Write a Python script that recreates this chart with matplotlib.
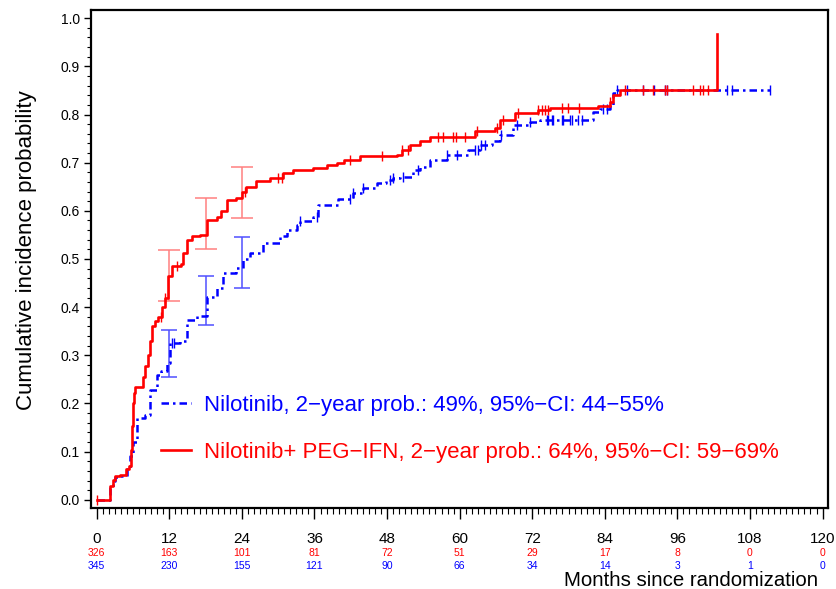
import numpy as np
import matplotlib
matplotlib.use("Agg")
import matplotlib.pyplot as plt
from matplotlib.ticker import MultipleLocator

plt.rcParams['font.family'] = ['Liberation Sans', 'DejaVu Sans']

# ---- data ----
red_t = [0, 2.2, 2.7, 3.0, 3.9, 4.9, 5.3, 5.6, 5.8, 5.95, 6.1, 6.3, 7.6, 8.0, 8.4, 8.8,
         9.2, 9.7, 10.1, 10.8, 11.3, 11.8, 12.4, 13.9, 14.3, 14.9, 15.7, 17.1, 18.2, 19.8,
         20.6, 21.5, 23.1, 24.0, 24.6, 26.4, 28.6, 30.8, 32.5, 35.8, 38.0, 39.7, 40.8, 43.5,
         49.6, 50.4, 51.8, 53.4, 55.1, 62.5, 65.8, 66.7, 69.1, 73.0, 74.9, 82.9, 84.8, 85.4,
         86.5, 102.6]
red_v = [0, 0.028, 0.042, 0.049, 0.052, 0.063, 0.07, 0.104, 0.153, 0.20, 0.222, 0.235, 0.256,
         0.277, 0.30, 0.33, 0.36, 0.372, 0.38, 0.40, 0.42, 0.464, 0.485, 0.49, 0.512, 0.54,
         0.547, 0.55, 0.58, 0.588, 0.60, 0.623, 0.627, 0.64, 0.65, 0.661, 0.668, 0.678, 0.685,
         0.689, 0.696, 0.699, 0.706, 0.713, 0.716, 0.727, 0.737, 0.744, 0.753, 0.765, 0.772,
         0.789, 0.803, 0.81, 0.813, 0.817, 0.827, 0.841, 0.85, 0.967]

blue_t = [0, 2.2, 2.7, 3.0, 3.9, 5.0, 5.5, 6.05, 6.6, 7.9, 8.8, 9.9, 10.7, 11.6, 12.1, 13.8,
          14.9, 16.5, 18.2, 19.8, 20.9, 23.1, 24.2, 25.3, 27.5, 30.3, 31.4, 33.1, 33.6, 35.8,
          36.6, 39.9, 42.4, 44.1, 46.3, 47.9, 49.0, 50.1, 52.3, 53.4, 55.1, 57.9, 61.4, 63.4,
          65.3, 66.7, 68.9, 71.6, 73.3, 82.1, 83.2, 84.8, 85.4, 86.0, 111.3]
blue_v = [0, 0.025, 0.04, 0.047, 0.05, 0.063, 0.09, 0.119, 0.17, 0.177, 0.229, 0.26, 0.267,
          0.284, 0.326, 0.33, 0.374, 0.381, 0.422, 0.44, 0.471, 0.481, 0.499, 0.512, 0.533,
          0.547, 0.561, 0.571, 0.578, 0.588, 0.613, 0.625, 0.637, 0.647, 0.658, 0.664, 0.668,
          0.671, 0.685, 0.692, 0.706, 0.716, 0.727, 0.737, 0.744, 0.758, 0.779, 0.785, 0.789,
          0.806, 0.811, 0.82, 0.844, 0.851, 0.851]

red_cens = [0, 10.6, 11.3, 13.2, 24.5, 30.0, 30.6, 41.9, 47.1, 50.4, 51.5, 56.4, 57.2, 58.9,
            59.4, 60.9, 62.9, 66.2, 67.2, 69.6, 73.0, 73.6, 74.1, 74.6, 76.9, 77.9, 79.7, 84.8,
            87.3, 90.3, 92.0, 94.0, 94.3, 98.6, 99.7, 100.2, 101.0]
blue_cens = [12.4, 12.8, 33.6, 36.4, 41.9, 42.4, 44.1, 48.5, 49.0, 50.7, 53.1, 57.9, 59.5,
             62.5, 63.0, 63.6, 64.2, 66.9, 69.5, 71.6, 74.4, 74.6, 75.3, 75.5, 76.9, 77.1, 78.2,
             78.5, 79.6, 80.2, 83.7, 84.3, 86.0, 87.6, 90.3, 92.2, 94.0, 94.3, 104.2, 105.0, 111.3]

ci_t = [12, 18, 24]
red_lo = [0.412, 0.521, 0.586]
red_hi = [0.519, 0.627, 0.690]
blue_lo = [0.256, 0.362, 0.440]
blue_hi = [0.353, 0.465, 0.546]

xticks = [0, 12, 24, 36, 48, 60, 72, 84, 96, 108, 120]
red_risk = [326, 163, 101, 81, 72, 51, 29, 17, 8, 0, 0]
blue_risk = [345, 230, 155, 121, 90, 66, 34, 14, 3, 1, 0]

blue_label = "Nilotinib, 2\u2212year prob.: 49%, 95%\u2212CI: 44\u221255%"
red_label = "Nilotinib+ PEG\u2212IFN, 2\u2212year prob.: 64%, 95%\u2212CI: 59\u221269%"

RED = "#ff0000"
BLUE = "#0000ff"


def step_val(ts, vs, x):
    i = np.searchsorted(ts, x, side="right") - 1
    return np.asarray(vs)[np.clip(i, 0, len(vs) - 1)]


def ci_err(lo, hi):
    mid = (np.asarray(lo) + np.asarray(hi)) / 2
    return mid, [mid - np.asarray(lo), np.asarray(hi) - mid]


fig = plt.figure(figsize=(8.36, 5.89), dpi=100)
ax = fig.add_axes([91 / 836, 1 - 508 / 589, 737 / 836, 498 / 589])

# curves
lb, = ax.plot(blue_t, blue_v, drawstyle="steps-post", color=BLUE, lw=1.8,
              linestyle=(0, (3, 1.6, 1, 1.6)), label=blue_label, zorder=3)
lr, = ax.plot(red_t, red_v, drawstyle="steps-post", color=RED, lw=1.9,
              label=red_label, zorder=4)

# censor marks
bc = np.array(blue_cens)
ax.plot(bc, step_val(blue_t, blue_v, bc), linestyle="none", marker="|", ms=7,
        mew=1.0, color=BLUE, zorder=3)
rc = np.array(red_cens)
ax.plot(rc, step_val(red_t, red_v, rc), linestyle="none", marker="|", ms=7,
        mew=1.0, color=RED, zorder=4)

# confidence intervals
bm, be = ci_err(blue_lo, blue_hi)
ax.errorbar(ci_t, bm, yerr=be, fmt="none", ecolor="#5050ff", elinewidth=1.1,
            capsize=5.5, capthick=1.1, zorder=2)
rm, re_ = ci_err(red_lo, red_hi)
ax.errorbar(ci_t, rm, yerr=re_, fmt="none", ecolor="#ff8080", elinewidth=1.1,
            capsize=8, capthick=1.1, zorder=2)

ax.set_xlim(-0.95, 120.9)
ax.set_ylim(-0.017, 1.017)
ax.set_xticks(xticks)
ax.set_xticklabels([str(x) for x in xticks], fontsize=11)
ax.xaxis.set_minor_locator(MultipleLocator(1))
ax.set_yticks(np.arange(0, 1.01, 0.1))
ax.set_yticklabels([f"{v:.1f}" for v in np.arange(0, 1.01, 0.1)], fontsize=10)
ax.yaxis.set_minor_locator(MultipleLocator(0.02))
ax.tick_params(axis="x", which="major", length=8, width=1, pad=9, direction="out")
ax.tick_params(axis="x", which="minor", length=4, width=0.8, direction="out")
ax.tick_params(axis="y", which="major", length=5, width=1, pad=3, direction="out")
ax.tick_params(axis="y", which="minor", length=3, width=0.8, direction="out")
for s in ax.spines.values():
    s.set_linewidth(1.6)

ax.set_ylabel("Cumulative incidence probability", fontsize=16)
ax.yaxis.set_label_coords(-0.073, 0.518)

# numbers at risk
trans = ax.get_xaxis_transform()
for x, r, b in zip(xticks, red_risk, blue_risk):
    ax.text(x, -0.09, str(r), transform=trans, ha="center", va="center",
            fontsize=7.5, color=RED)
    ax.text(x, -0.117, str(b), transform=trans, ha="center", va="center",
            fontsize=7.5, color=BLUE)
ax.text(0.9865, -0.145, "Months since randomization", transform=ax.transAxes,
        ha="right", va="center", fontsize=14.7)

leg = ax.legend(handles=[lb, lr], loc="upper left", bbox_to_anchor=(0.095, 0.227),
                frameon=False, fontsize=16, handlelength=1.35, handletextpad=0.59,
                labelspacing=1.18, borderpad=0, borderaxespad=0, labelcolor="linecolor")

fig.savefig("out.png", dpi=100)
